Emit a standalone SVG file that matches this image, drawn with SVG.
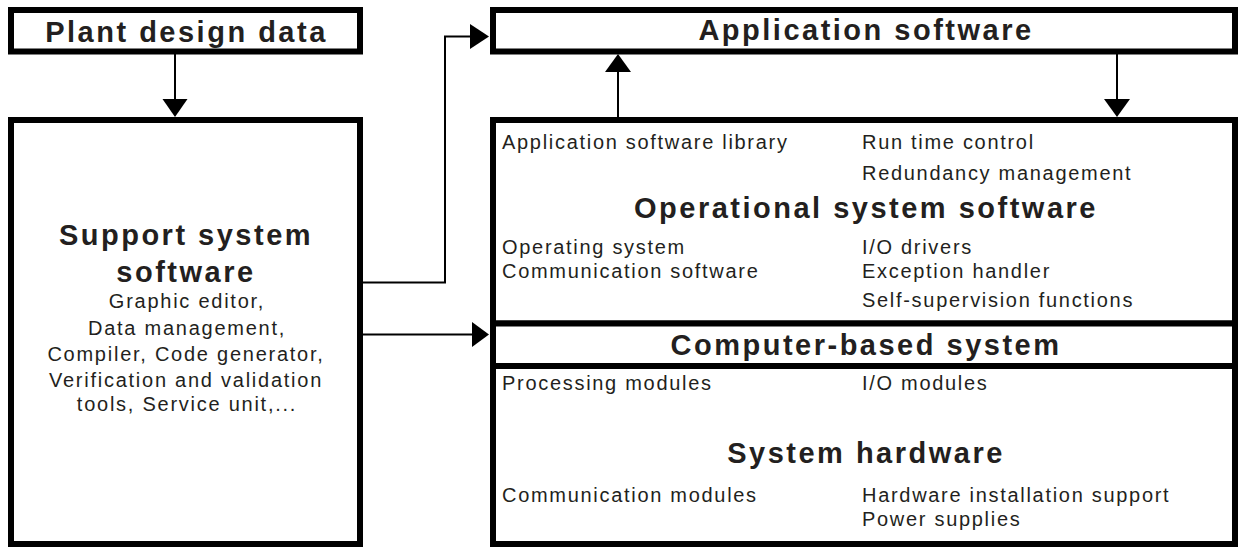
<svg xmlns="http://www.w3.org/2000/svg" width="1242" height="547" viewBox="0 0 1242 547">
  <style>
    .box { fill: #ffffff; stroke: #000000; stroke-width: 6; }
    .wire { fill: none; stroke: #000000; stroke-width: 2; }
    .head { fill: #000000; stroke: none; }
    .title { font-family: "Liberation Sans", Arial, sans-serif; font-weight: bold; font-size: 29px; letter-spacing: 2.5px; fill: #231f20; text-anchor: middle; }
    .item { font-family: "Liberation Sans", Arial, sans-serif; font-size: 20px; letter-spacing: 1.7px; fill: #231f20; }
    .note { font-family: "Liberation Sans", Arial, sans-serif; font-size: 20px; letter-spacing: 1.75px; fill: #231f20; text-anchor: middle; }
  </style>
  <rect x="0" y="0" width="1242" height="547" fill="#ffffff"/>

  <!-- connectors -->
  <g id="connectors">
    <!-- Plant design data -> Support system software -->
    <line class="wire" x1="175" y1="54" x2="175" y2="101"/>
    <polygon class="head" points="162.5,99 187.5,99 175,117"/>
    <!-- Support system software -> Application software -->
    <polyline class="wire" points="363,282.5 445,282.5 445,36.5 472,36.5"/>
    <polygon class="head" points="470,24 470,49 489,36.5"/>
    <!-- Support system software -> Computer-based system -->
    <line class="wire" x1="363" y1="334.5" x2="474" y2="334.5"/>
    <polygon class="head" points="472,322 472,347 489,334.5"/>
    <!-- Operational system software -> Application software -->
    <line class="wire" x1="618" y1="117" x2="618" y2="70"/>
    <polygon class="head" points="605,72 631,72 618,54"/>
    <!-- Application software -> Operational system software -->
    <line class="wire" x1="1117" y1="54" x2="1117" y2="101"/>
    <polygon class="head" points="1104,99 1130,99 1117,117"/>
  </g>

  <g id="plant-design-data">
    <rect class="box" x="11" y="10" width="349" height="41.5"/>
    <text class="title" x="186.5" y="42">Plant design data</text>
  </g>

  <g id="support-system-software">
    <rect class="box" x="11" y="120" width="349" height="424"/>
    <text class="title" x="186" y="245">Support system</text>
    <text class="title" x="186" y="281.5">software</text>
    <text class="note" x="187" y="308">Graphic editor,</text>
    <text class="note" x="187" y="334.5">Data management,</text>
    <text class="note" x="186" y="360.5">Compiler, Code generator,</text>
    <text class="note" x="186" y="386.5">Verification and validation</text>
    <text class="note" x="187" y="411">tools, Service unit,...</text>
  </g>

  <g id="application-software">
    <rect class="box" x="493" y="10" width="742" height="41.5"/>
    <text class="title" x="866" y="40">Application software</text>
  </g>

  <g id="operational-system-software">
    <rect class="box" x="493" y="120" width="742" height="203.5"/>
    <text class="item" x="502" y="149">Application software library</text>
    <text class="item" x="862" y="149">Run time control</text>
    <text class="item" x="862" y="180">Redundancy management</text>
    <text class="title" x="866" y="218">Operational system software</text>
    <text class="item" x="502" y="254">Operating system</text>
    <text class="item" x="862" y="254">I/O drivers</text>
    <text class="item" x="502" y="278">Communication software</text>
    <text class="item" x="862" y="278">Exception handler</text>
    <text class="item" x="862" y="307">Self-supervision functions</text>
  </g>

  <g id="computer-based-system">
    <rect class="box" x="493" y="323.5" width="742" height="42.5"/>
    <text class="title" x="866" y="355">Computer-based system</text>
  </g>

  <g id="system-hardware">
    <rect class="box" x="493" y="366" width="742" height="178"/>
    <text class="item" x="502" y="390">Processing modules</text>
    <text class="item" x="862" y="390">I/O modules</text>
    <text class="title" x="866" y="463">System hardware</text>
    <text class="item" x="502" y="502">Communication modules</text>
    <text class="item" x="862" y="502">Hardware installation support</text>
    <text class="item" x="862" y="526">Power supplies</text>
  </g>
</svg>
